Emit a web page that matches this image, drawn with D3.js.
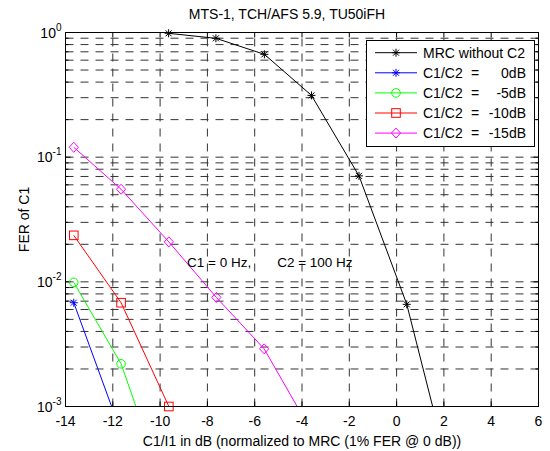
<!DOCTYPE html>
<html>
<head>
<meta charset="utf-8">
<script src="https://cdn.jsdelivr.net/npm/d3@7"></script>
<style>
  body { margin: 0; background: #fff; }
  text { font-family: "Liberation Sans", Arial, Helvetica, sans-serif; fill: #000; }
</style>
</head>
<body>
<svg id="chart" width="550" height="451"></svg>
<script>
// C1/I1 in dB (x) and FER of C1 (y)
const xMRC = [-9.64, -7.64, -5.59, -3.6, -1.59, 0.43, 2.43];
const ferMRC = [0.985, 0.898, 0.668, 0.313, 0.0708, 0.0066, 0.00021];

const xC = [-13.65, -11.65, -9.63, -7.62, -5.6, -3.6];
const fer0dB = [0.0068, 0.00062];
const ferM5dB = [0.0099, 0.0022, 0.000176];
const ferM10dB = [0.0236, 0.0068, 0.001];
const ferM15dB = [0.12, 0.0553, 0.0209, 0.0075, 0.0029, 0.00063];

const ratioLabels = ['0dB', '-5dB', '-10dB', '-15dB'];
const xTicks = [-14, -12, -10, -8, -6, -4, -2, 0, 2, 4, 6];
const yTicks = [1e-3, 1e-2, 1e-1, 1];
const yTickExp = ['-3', '-2', '-1', '0'];

const series = [
    {name: 'MRC without C2', x: xMRC, y: ferMRC, color: '#000000', marker: 'star'},
    {name: ratioLabels[0], x: xC, y: fer0dB, color: '#0000ff', marker: 'star'},
    {name: ratioLabels[1], x: xC, y: ferM5dB, color: '#00ff00', marker: 'circle'},
    {name: ratioLabels[2], x: xC, y: ferM10dB, color: '#ff0000', marker: 'square'},
    {name: ratioLabels[3], x: xC, y: ferM15dB, color: '#ff00ff', marker: 'diamond'}
];

const pLeft = 65.5, pRight = 538.5, pTop = 32.5, pBottom = 406.5;

const svg = d3.select('#chart');

const x = d3.scaleLinear().domain([-14, 6]).range([pLeft, pRight]);
const y = d3.scaleLog().domain([1e-3, 1]).range([pBottom, pTop]);

svg.append('defs').append('clipPath').attr('id', 'plotclip')
    .append('rect')
    .attr('x', pLeft).attr('y', pTop)
    .attr('width', pRight - pLeft).attr('height', pBottom - pTop);

// grid
const minorY = [];
[1e-3, 1e-2, 1e-1].forEach(d => {
    for (let m = 1; m <= 9; m++) minorY.push(m * d);
});
const grid = svg.append('g')
    .attr('stroke', '#333')
    .attr('stroke-width', 1)
    .attr('stroke-dasharray', '8,7');

grid.selectAll('line.hg')
    .data(minorY.filter(v => v > 1e-3))
    .enter().append('line')
    .attr('x1', pLeft).attr('x2', pRight)
    .attr('y1', d => y(d)).attr('y2', d => y(d));

grid.selectAll('line.vg')
    .data(xTicks.slice(1, -1))
    .enter().append('line')
    .attr('x1', d => x(d)).attr('x2', d => x(d))
    .attr('y1', pBottom).attr('y2', pTop);

// ticks (inside, all four sides)
const ticks = svg.append('g').attr('stroke', '#000').attr('stroke-width', 1);
xTicks.forEach(t => {
    ticks.append('line').attr('x1', x(t)).attr('x2', x(t)).attr('y1', pBottom).attr('y2', pBottom - 5);
    ticks.append('line').attr('x1', x(t)).attr('x2', x(t)).attr('y1', pTop).attr('y2', pTop + 5);
});
minorY.forEach(v => {
    const len = yTicks.includes(v) ? 5 : 3;
    ticks.append('line').attr('x1', pLeft).attr('x2', pLeft + len).attr('y1', y(v)).attr('y2', y(v));
    ticks.append('line').attr('x1', pRight).attr('x2', pRight - len).attr('y1', y(v)).attr('y2', y(v));
});

// data lines
const line = d3.line()
    .x(d => x(d[0]))
    .y(d => y(d[1]));

const plot = svg.append('g').attr('clip-path', 'url(#plotclip)');
series.forEach(s => {
    const pts = s.y.map((v, i) => [s.x[i], v]);
    plot.append('path')
        .datum(pts)
        .attr('d', line)
        .attr('fill', 'none')
        .attr('stroke', s.color)
        .attr('stroke-width', 1);
});

function drawMarker(g, type, cx, cy, color) {
    if (type === 'star') {
        g.append('path')
            .attr('d', `M${cx-4},${cy}L${cx+4},${cy}M${cx},${cy-4}L${cx},${cy+4}` +
                       `M${cx-3},${cy-3}L${cx+3},${cy+3}M${cx-3},${cy+3}L${cx+3},${cy-3}`)
            .attr('stroke', color).attr('fill', 'none').attr('stroke-width', 1);
    } else if (type === 'circle') {
        g.append('circle').attr('cx', cx).attr('cy', cy).attr('r', 4.3)
            .attr('stroke', color).attr('fill', 'none').attr('stroke-width', 1);
    } else if (type === 'square') {
        g.append('rect').attr('x', cx - 4.3).attr('y', cy - 4.3)
            .attr('width', 8.6).attr('height', 8.6)
            .attr('stroke', color).attr('fill', 'none').attr('stroke-width', 1);
    } else if (type === 'diamond') {
        g.append('path')
            .attr('d', `M${cx},${cy-5}L${cx+4.6},${cy}L${cx},${cy+5}L${cx-4.6},${cy}Z`)
            .attr('stroke', color).attr('fill', 'none').attr('stroke-width', 1);
    }
}

const markers = svg.append('g');
series.forEach(s => {
    s.y.forEach((v, i) => {
        if (v < 0.00099 || v > 1 || s.x[i] < -14 || s.x[i] > 6) return;
        drawMarker(markers, s.marker, x(s.x[i]), y(v), s.color);
    });
});

// frame
svg.append('rect')
    .attr('x', pLeft).attr('y', pTop)
    .attr('width', pRight - pLeft).attr('height', pBottom - pTop)
    .attr('fill', 'none').attr('stroke', '#000').attr('stroke-width', 1);

// tick labels
svg.append('g').selectAll('text')
    .data(xTicks)
    .enter().append('text')
    .attr('x', d => x(d))
    .attr('y', pBottom + 19)
    .attr('text-anchor', 'middle')
    .style('font-size', '14px')
    .text(d => d);

const yl = svg.append('g').selectAll('text')
    .data(yTicks)
    .enter().append('text')
    .attr('x', pLeft - 4)
    .attr('y', d => y(d) + 5)
    .attr('text-anchor', 'end')
    .style('font-size', '14px');
yl.append('tspan').text('10');
yl.append('tspan')
    .attr('dy', -7)
    .style('font-size', '10px')
    .text((d, i) => yTickExp[i]);

// title and axis labels
svg.append('text')
    .attr('x', 287).attr('y', 19)
    .attr('text-anchor', 'middle')
    .style('font-size', '14px')
    .text('MTS-1, TCH/AFS 5.9, TU50iFH');

svg.append('text')
    .attr('x', (pLeft + pRight) / 2).attr('y', 446)
    .attr('text-anchor', 'middle')
    .style('font-size', '14px')
    .text('C1/I1 in dB (normalized to MRC (1% FER @ 0 dB))');

svg.append('text')
    .attr('transform', `translate(29, ${(pTop + pBottom) / 2}) rotate(-90)`)
    .attr('text-anchor', 'middle')
    .style('font-size', '14px')
    .text('FER of C1');

// annotation
svg.append('text')
    .attr('x', x(-8.86)).attr('y', y(0.0144) + 5)
    .style('font-size', '13.5px')
    .text('C1 = 0 Hz,');
svg.append('text')
    .attr('x', x(-5.05)).attr('y', y(0.0144) + 5)
    .style('font-size', '13.5px')
    .text('C2 = 100 Hz');

// legend
const lg = svg.append('g');
lg.append('rect')
    .attr('x', 366.5).attr('y', 40.5)
    .attr('width', 168).attr('height', 106)
    .attr('fill', '#fff').attr('stroke', '#000').attr('stroke-width', 1);

series.forEach((s, i) => {
    const ry = 52.7 + i * 20.1;
    lg.append('line')
        .attr('x1', 375).attr('x2', 417)
        .attr('y1', ry).attr('y2', ry)
        .attr('stroke', s.color).attr('stroke-width', 1);
    drawMarker(lg, s.marker, 396, ry, s.color);
    if (i === 0) {
        lg.append('text').attr('x', 423).attr('y', ry + 5)
            .style('font-size', '14px').text(s.name);
    } else {
        lg.append('text').attr('x', 423).attr('y', ry + 5)
            .style('font-size', '14px').text('C1/C2');
        lg.append('text').attr('x', 475).attr('y', ry + 5)
            .attr('text-anchor', 'middle')
            .style('font-size', '14px').text('=');
        lg.append('text').attr('x', 526).attr('y', ry + 5)
            .attr('text-anchor', 'end')
            .style('font-size', '14px').text(s.name);
    }
});
</script>
</body>
</html>
